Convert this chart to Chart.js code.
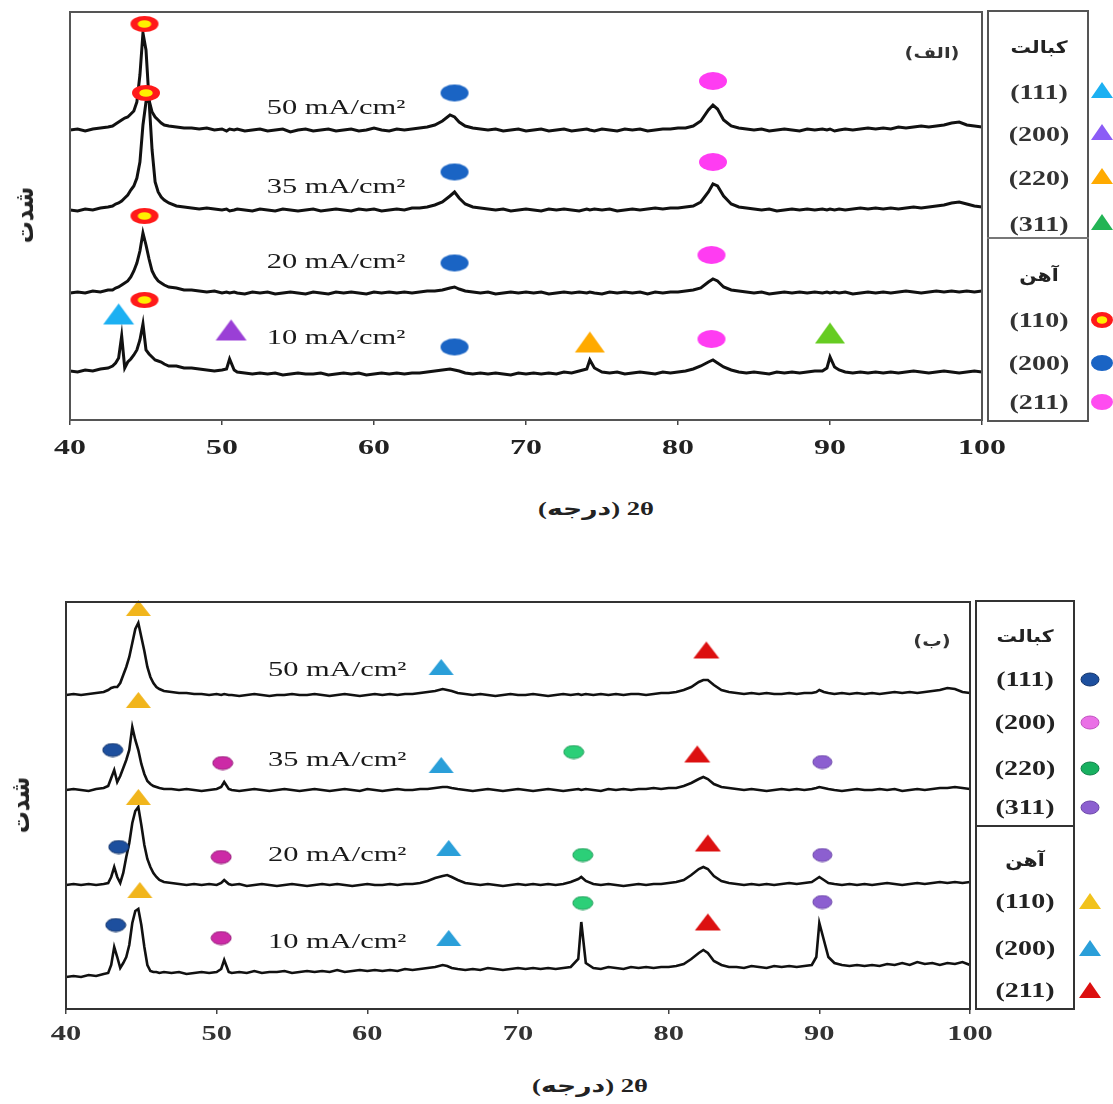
<!DOCTYPE html>
<html>
<head>
<meta charset="utf-8">
<script src="https://cdn.jsdelivr.net/npm/chart.js@4.4.1/dist/chart.umd.min.js"></script>
<style>
  body { margin: 0; background: #fff; width: 1113px; height: 1104px; position: relative; overflow: hidden; }
  .panel { position: absolute; left: 0; width: 1113px; }
  .txt { position: absolute; white-space: nowrap; color: #222; line-height: 1; }
  .box { position: absolute; box-sizing: border-box; }
  .mk { position: absolute; }
</style>
</head>
<body>
<div class="panel" style="top:0;height:470px"><canvas id="chartA"></canvas></div>
<div class="panel" style="top:560px;height:500px"><canvas id="chartB"></canvas></div>

<script>
// ========== DATA ==========
// 2θ sampling (degrees), shared by every pattern
var twoTheta = [
  40, 40.5, 41, 41.5, 42, 42.5,
  42.8, 43, 43.2, 43.4, 43.6, 43.8, 44, 44.2, 44.4, 44.6,
  44.8, 45, 45.2, 45.4, 45.6, 45.8, 46, 46.2, 46.5,
  47, 47.5, 48, 48.5, 49, 49.5, 50, 50.3, 50.5, 50.8,
  51, 51.5, 52, 52.5, 53, 53.5, 54, 54.5, 55, 55.5,
  56, 56.5, 57, 57.5, 58, 58.5, 59, 59.5, 60, 60.5,
  61, 61.5, 62, 62.5, 63, 63.5, 64, 64.5, 65, 65.3,
  65.6, 66, 66.5, 67, 67.5, 68, 68.5, 69, 69.5, 70,
  70.5, 71, 71.5, 72, 72.5, 73, 73.5, 74, 74.2, 74.5,
  75, 75.5, 76, 76.5, 77, 77.5, 78, 78.5, 79, 79.5,
  80, 80.5, 81, 81.5, 82, 82.3, 82.6, 83, 83.5, 84,
  84.5, 85, 85.5, 86, 86.5, 87, 87.5, 88, 88.5, 89,
  89.5, 89.8, 90, 90.3, 90.6, 91, 91.5, 92, 92.5, 93,
  93.5, 94, 94.5, 95, 95.5, 96, 96.5, 97, 97.5, 98,
  98.5, 99, 99.5, 100
];
var xTickValues = [40, 50, 60, 70, 80, 90, 100];
var currents = ["10", "20", "35", "50"];
var coHkl = ["(111)", "(200)", "(220)", "(311)"];
var feHkl = ["(110)", "(200)", "(211)"];

// panel (الف): intensity above each pattern's own baseline (a.u.)
var panelA_offsets = [48, 127, 210, 290];
var panelA_10 = [
  1, 0, 2, 1, 3, 4,
  6, 9, 14, 36, 4, 10, 13, 17, 22, 32,
  48, 22, 18, 15, 12, 11, 10, 8, 6,
  6, 4, 4, 3, 2, 1, 2, 3, 13, 2,
  0, -1, -2, -1, -2, -1, -3, -2, -1, -2,
  -2, -1, -3, -2, -1, -2, -1, -3, -2, -1,
  -2, -1, -2, -1, -1, 0, 1, 2, 3, 2,
  1, -1, -2, -1, -2, -1, -2, -3, -1, -2,
  -1, -2, -1, -2, 0, -1, 1, 3, 12, 4,
  0, -1, 0, -2, -1, 0, -1, -2, 0, -1,
  0, 1, 3, 6, 10, 12, 9, 5, 2, 0,
  -1, 0, -1, -2, 0, -1, 0, -1, 0, 1,
  1, 4, 15, 5, 2, 0, -1, 0, -1, 0,
  -1, 0, -1, 0, 1, 0, -1, 0, 1, 0,
  -1, 0, 1, 0
];
var panelA_20 = [
  0, 1, 0, 2, 1, 3,
  3, 5, 6, 8, 10, 12, 16, 22, 30, 42,
  60, 48, 34, 22, 16, 12, 10, 8, 6,
  5, 3, 3, 2, 1, 2, 0, 1, 0, 1,
  0, -1, 1, 0, 1, -1, 0, 1, 0, -1,
  1, 0, -1, 1, 0, 1, 0, -1, 1, 0,
  1, 0, 1, 0, 1, 2, 2, 3, 5, 6,
  4, 2, 1, 0, 1, -1, 0, 1, 0, 1,
  0, 1, -1, 0, 1, 0, 1, 0, 1, 0,
  -1, 1, 0, 1, 0, 1, -1, 1, 0, 1,
  1, 2, 3, 5, 11, 14, 12, 6, 3, 2,
  1, 0, 1, -1, 0, 1, 0, 1, 0, 1,
  0, 1, 0, 1, 0, 1, -1, 0, 1, 0,
  1, 0, 1, 2, 1, 0, 1, 2, 1, 2,
  1, 2, 1, 2
];
var panelA_35 = [
  0, -1, 1, 0, 2, 3,
  4, 6, 7, 9, 12, 15, 20, 24, 32, 48,
  85, 108, 110, 60, 28, 18, 13, 10, 7,
  4, 3, 2, 1, 2, 1, 0, 1, -1, 0,
  1, 0, -1, 1, 0, -1, 1, 0, -1, 0,
  1, -1, 0, 1, 0, -1, 1, 0, 1, -1,
  0, 1, 0, 2, 2, 3, 5, 8, 14, 18,
  12, 6, 3, 2, 1, 0, 1, -1, 0, 1,
  0, -1, 1, 0, 1, 0, -1, 1, 0, 1,
  0, 1, -1, 0, 1, 0, 1, 2, 1, 2,
  2, 3, 4, 8, 18, 26, 24, 14, 6, 3,
  2, 1, 0, 1, -1, 0, 1, 0, 1, 0,
  1, 0, 1, 0, 1, 0, 1, 2, 1, 2,
  1, 2, 1, 2, 3, 2, 3, 4, 5, 7,
  8, 6, 4, 3
];
var panelA_50 = [
  0, 1, -1, 1, 2, 3,
  4, 6, 8, 10, 12, 13, 16, 19, 28, 55,
  97, 80, 30, 18, 13, 10, 7, 5, 4,
  3, 2, 2, 1, 2, 0, 1, -1, 1, 0,
  1, -1, 0, 1, -1, 0, 1, -2, 0, 1,
  -1, 0, 1, -1, 0, 1, -1, 0, 2, 0,
  -1, 1, 0, 1, 2, 3, 5, 9, 15, 13,
  8, 4, 2, 1, 0, 1, -1, 0, 1, -1,
  0, 1, -1, 0, 1, -1, 0, 1, 0, -1,
  1, 0, -1, 1, 0, 1, -1, 0, 1, 1,
  2, 2, 4, 9, 20, 25, 21, 10, 4, 2,
  1, 0, 1, -1, 0, 1, 0, -1, 1, 0,
  1, 0, 1, -1, 0, 1, 0, 1, 2, 1,
  2, 1, 3, 2, 3, 4, 3, 4, 5, 7,
  8, 5, 4, 3
];
// peak markers, [2θ, intensity]
var coA_111 = [[43.2, 106]];
var coA_200 = [[50.6, 90]];
var coA_220 = [[74.2, 78]];
var coA_311 = [[90.0, 87]];
var feA_110 = [[44.9, 396], [45.0, 327], [44.9, 204], [44.9, 120]];
var feA_200 = [[65.3, 327], [65.3, 248], [65.3, 157], [65.3, 73]];
var feA_211 = [[82.3, 339], [82.3, 258], [82.2, 165], [82.2, 81]];

// panel (ب)
var panelB_offsets = [32, 124, 219, 314];
var panelB_10 = [
  0, 1, 0, 2, 1, 3,
  4, 12, 30, 20, 9, 14, 20, 32, 54, 66,
  68, 52, 30, 12, 6, 5, 5, 4, 5,
  4, 5, 3, 4, 5, 4, 5, 8, 17, 5,
  4, 5, 4, 6, 4, 5, 5, 6, 4, 5,
  6, 5, 6, 5, 7, 5, 6, 7, 6, 7,
  6, 7, 6, 8, 7, 8, 9, 10, 12, 11,
  9, 8, 7, 8, 7, 9, 8, 7, 8, 9,
  8, 9, 8, 9, 8, 9, 10, 18, 55, 14,
  9, 8, 10, 9, 8, 10, 9, 10, 9, 10,
  10, 11, 13, 18, 24, 27, 24, 16, 12, 10,
  10, 9, 11, 10, 9, 11, 10, 11, 10, 11,
  12, 20, 54, 37, 20, 14, 12, 11, 12, 11,
  12, 11, 13, 12, 14, 12, 15, 13, 14, 12,
  14, 13, 15, 12
];
var panelB_20 = [
  0, 1, 0, 1, 0, 1,
  2, 8, 18, 8, 2, 12, 28, 42, 62, 74,
  78, 60, 40, 26, 18, 12, 8, 5, 3,
  2, 1, 0, 1, 0, 1, 0, 2, 5, 1,
  0, 1, -1, 0, 1, 0, -1, 0, 1, 0,
  -1, 0, 1, 0, 1, 0, -1, 0, 1, 0,
  0, 1, 0, 1, 1, 2, 4, 7, 9, 10,
  8, 5, 2, 1, 0, 1, 0, -1, 0, 1,
  0, 1, 0, 1, 0, 1, 3, 6, 8, 4,
  1, 0, 1, 0, -1, 0, 1, 0, 1, 1,
  2, 3, 5, 10, 16, 18, 16, 9, 4, 2,
  1, 0, 1, 0, 1, 0, 1, 2, 1, 2,
  3, 6, 8, 5, 2, 1, 0, 1, 0, 1,
  0, 1, 2, 1, 0, 1, 2, 1, 2, 3,
  2, 3, 2, 3
];
var panelB_35 = [
  0, 1, 0, -1, 1, 2,
  4, 12, 20, 8, 14, 22, 30, 40, 63, 50,
  40, 26, 16, 9, 6, 4, 3, 2, 1,
  1, 0, 1, 0, -1, 0, 1, 3, 8, 1,
  0, -1, 0, 1, 0, -1, 0, 1, 0, -1,
  0, 1, 0, -1, 0, 1, 0, -1, 1, 0,
  -1, 0, 1, 0, 0, 1, 1, 2, 3, 3,
  2, 1, 0, -1, 0, 1, 0, -1, 0, 1,
  0, -1, 0, 1, 0, -1, 0, 1, 0, 1,
  0, -1, 1, 0, 1, 0, 1, 1, 2, 1,
  2, 2, 4, 7, 11, 13, 11, 6, 3, 2,
  1, 0, 1, 0, -1, 0, 1, 0, 1, 0,
  1, 2, 3, 2, 1, 0, -1, 0, 1, 0,
  0, 1, 0, 1, -1, 0, 1, 0, 1, 2,
  2, 3, 2, 1
];
var panelB_50 = [
  0, 1, 0, 1, 2, 3,
  5, 7, 8, 8, 12, 20, 28, 38, 52, 66,
  72, 58, 44, 28, 18, 12, 8, 6, 4,
  3, 2, 2, 1, 1, 0, 1, 0, 1, 0,
  0, -1, 0, 1, 0, -1, 0, 0, 1, 0,
  0, 1, 0, -1, 0, 1, 0, -1, 0, 1,
  0, 1, 0, 1, 1, 2, 3, 4, 6, 5,
  4, 2, 1, 0, 1, 0, -1, 0, 1, 0,
  0, 1, 0, -1, 0, 1, 0, 1, 0, 1,
  0, 1, 0, 1, 0, 1, 1, 0, 1, 2,
  2, 3, 5, 8, 13, 15, 15, 10, 5, 3,
  2, 1, 2, 1, 2, 1, 1, 2, 1, 2,
  2, 3, 5, 3, 2, 1, 2, 1, 2, 1,
  2, 1, 2, 3, 2, 3, 2, 3, 4, 5,
  7, 6, 3, 2
];
var coB_111 = [[43.1, 259], [43.5, 162], [43.3, 84]];
var coB_200 = [[50.4, 246], [50.3, 152], [50.3, 71]];
var coB_220 = [[73.7, 257], [74.3, 154], [74.3, 106]];
var coB_311 = [[90.2, 247], [90.2, 154], [90.2, 107]];
var feB_110 = [[44.8, 401], [44.8, 309], [44.8, 212], [44.9, 119]];
var feB_200 = [[64.9, 342], [64.9, 244], [65.4, 161], [65.4, 71]];
var feB_211 = [[82.5, 359], [81.9, 255], [82.6, 166], [82.6, 87]];

// ========== HELPERS ==========
function makeMarker(shape, w, h, fill, inner, stroke) {
  var c = document.createElement("canvas");
  c.width = w + 2;
  c.height = h + 2;
  var g = c.getContext("2d");
  g.fillStyle = fill;
  g.beginPath();
  if (shape === "tri") {
    g.moveTo(c.width / 2, 1);
    g.lineTo(w + 1, h + 1);
    g.lineTo(1, h + 1);
    g.closePath();
  } else {
    g.ellipse(c.width / 2, c.height / 2, w / 2, h / 2, 0, 0, Math.PI * 2);
  }
  g.fill();
  if (stroke) {
    g.strokeStyle = stroke;
    g.lineWidth = 1;
    g.stroke();
  }
  if (inner) {
    g.fillStyle = inner;
    g.beginPath();
    g.ellipse(c.width / 2, c.height / 2, w * 0.24, h * 0.24, 0, 0, Math.PI * 2);
    g.fill();
  }
  return c;
}

function stretchText(ctx, text, x, y, sx) {
  ctx.save();
  ctx.translate(x, y);
  ctx.scale(sx, 1);
  ctx.fillText(text, 0, 0);
  ctx.restore();
}

function addText(text, cx, cy, font, transform, color) {
  var d = document.createElement("div");
  d.className = "txt";
  d.textContent = text;
  d.style.font = font;
  d.style.left = cx + "px";
  d.style.top = cy + "px";
  if (color) d.style.color = color;
  d.style.transform = "translate(-50%,-50%) " + transform;
  document.body.appendChild(d);
}

function addBox(left, top, w, h, border) {
  var d = document.createElement("div");
  d.className = "box";
  d.style.left = left + "px";
  d.style.top = top + "px";
  d.style.width = w + "px";
  d.style.height = h + "px";
  d.style.border = border;
  document.body.appendChild(d);
}

function addMarker(canvas, cx, cy) {
  canvas.className = "mk";
  canvas.style.left = (cx - canvas.width / 2) + "px";
  canvas.style.top = (cy - canvas.height / 2) + "px";
  document.body.appendChild(canvas);
}

function traceSet(h, off, lw) {
  return {
    data: twoTheta.map(function (x, i) { return { x: x, y: off + h[i] }; }),
    borderColor: "#111",
    borderWidth: lw,
    pointRadius: 0,
    tension: 0,
    order: 1
  };
}

function markSet(pts, style) {
  return {
    data: pts.map(function (p) { return { x: p[0], y: p[1] }; }),
    showLine: false,
    pointStyle: style,
    pointRadius: 6,
    clip: false,
    order: 0
  };
}

// frame, stretched tick labels and current-density labels
var paperPlugin = {
  id: "paper",
  afterDraw: function (chart, args, o) {
    var ctx = chart.ctx, a = chart.chartArea;
    var xs = chart.scales.x, ys = chart.scales.y;
    ctx.save();
    ctx.strokeStyle = o.frameColor;
    ctx.lineWidth = o.frameWidth;
    ctx.strokeRect(a.left, a.top, a.right - a.left, a.bottom - a.top);
    ctx.textAlign = "center";
    ctx.textBaseline = "middle";
    ctx.fillStyle = o.tickColor;
    ctx.font = o.tickFont;
    xTickValues.forEach(function (v) {
      stretchText(ctx, String(v), xs.getPixelForValue(v), a.bottom + o.tickGap, o.stretch);
    });
    ctx.fillStyle = "#1a1a1a";
    ctx.font = o.labelFont;
    currents.forEach(function (c, i) {
      stretchText(ctx, c + " mA/cm\u00B2", xs.getPixelForValue(o.labelX),
        ys.getPixelForValue(o.offsets[i] + o.labelRise[i]), o.stretch);
    });
    ctx.restore();
  }
};

function baseOptions(pad, yMax, axisH, paper) {
  return {
    responsive: true,
    maintainAspectRatio: false,
    animation: false,
    events: [],
    layout: { padding: pad },
    plugins: { legend: { display: false }, tooltip: { enabled: false }, paper: paper },
    scales: {
      x: {
        type: "linear",
        min: 40,
        max: 100,
        afterBuildTicks: function (s) { s.ticks = xTickValues.map(function (v) { return { value: v }; }); },
        afterFit: function (s) { s.height = axisH; },
        ticks: { display: false },
        grid: { drawOnChartArea: false, tickLength: 5, color: "#444", lineWidth: 1.5 },
        border: { display: false }
      },
      y: { display: false, min: 0, max: yMax }
    }
  };
}

document.addEventListener("DOMContentLoaded", function () {

  // ========== PANEL (الف) ==========
  var aCo111 = makeMarker("tri", 31, 21, "#1cb0f2");
  var aCo200 = makeMarker("tri", 31, 21, "#9a3fd6");
  var aCo220 = makeMarker("tri", 30, 21, "#ffaa00");
  var aCo311 = makeMarker("tri", 30, 21, "#66cc22");
  var aFe110 = makeMarker("ell", 28, 16, "#ff1a1a", "#ffee00");
  var aFe200 = makeMarker("ell", 28, 17, "#1a64c4");
  var aFe211 = makeMarker("ell", 28, 18, "#ff3cf2");

  new Chart(document.getElementById("chartA"), {
    type: "line",
    data: {
      datasets: [
        markSet(coA_111, aCo111), markSet(coA_200, aCo200), markSet(coA_220, aCo220), markSet(coA_311, aCo311),
        markSet(feA_110, aFe110), markSet(feA_200, aFe200), markSet(feA_211, aFe211),
        traceSet(panelA_10, panelA_offsets[0], 3), traceSet(panelA_20, panelA_offsets[1], 3),
        traceSet(panelA_35, panelA_offsets[2], 3), traceSet(panelA_50, panelA_offsets[3], 3)
      ]
    },
    options: baseOptions({ left: 70, top: 12, right: 131, bottom: 0 }, 408, 50, {
      frameColor: "#555", frameWidth: 2,
      tickColor: "#222", tickFont: "bold 22px 'Liberation Serif', serif", tickGap: 28, stretch: 1.45,
      labelFont: "21px 'Liberation Serif', serif", labelX: 57.5,
      offsets: panelA_offsets, labelRise: [34, 31, 23, 22]
    }),
    plugins: [paperPlugin]
  });

  // ========== PANEL (ب) ==========
  var bCo111 = makeMarker("ell", 20, 13, "#1d4f9e", null, "#12336a");
  var bCo200 = makeMarker("ell", 20, 13, "#cc2aa6", null, "#951a78");
  var bCo220 = makeMarker("ell", 20, 13, "#2ccf78", null, "#1e9c58");
  var bCo311 = makeMarker("ell", 19, 13, "#8c5fd0", null, "#6a45a8");
  var bFe110 = makeMarker("tri", 25, 16, "#f1b51c");
  var bFe200 = makeMarker("tri", 25, 16, "#2a9fd9");
  var bFe211 = makeMarker("tri", 26, 17, "#dc1010");

  new Chart(document.getElementById("chartB"), {
    type: "line",
    data: {
      datasets: [
        markSet(coB_111, bCo111), markSet(coB_200, bCo200), markSet(coB_220, bCo220), markSet(coB_311, bCo311),
        markSet(feB_110, bFe110), markSet(feB_200, bFe200), markSet(feB_211, bFe211),
        traceSet(panelB_10, panelB_offsets[0], 2.6), traceSet(panelB_20, panelB_offsets[1], 2.6),
        traceSet(panelB_35, panelB_offsets[2], 2.6), traceSet(panelB_50, panelB_offsets[3], 2.6)
      ]
    },
    options: baseOptions({ left: 66, top: 42, right: 143, bottom: 0 }, 407, 51, {
      frameColor: "#333", frameWidth: 2,
      tickColor: "#333", tickFont: "bold 21px 'Liberation Serif', serif", tickGap: 26, stretch: 1.45,
      labelFont: "21px 'Liberation Serif', serif", labelX: 58.0,
      offsets: panelB_offsets, labelRise: [35, 30, 30, 25]
    }),
    plugins: [paperPlugin]
  });

  // ========== TITLES ==========
  var faFont = "bold 19px 'Liberation Serif', 'DejaVu Sans', sans-serif";
  addText("(درجه) 2θ", 596, 508, faFont, "scaleX(1.4)");
  addText("(درجه) 2θ", 590, 1085, faFont, "scaleX(1.4)");
  addText("شدت", 24, 215, "bold 22px 'DejaVu Sans', sans-serif", "rotate(-90deg) scaleY(1.2)");
  addText("شدت", 20, 805, "bold 22px 'DejaVu Sans', sans-serif", "rotate(-90deg) scaleY(1.2)");
  addText("(الف)", 932, 53, "bold 15px 'DejaVu Sans', sans-serif", "scaleX(1.3)", "#333");
  addText("(ب)", 932, 641, "bold 15px 'DejaVu Sans', sans-serif", "scaleX(1.3)", "#333");

  // ========== LEGEND (الف) ==========
  addBox(987, 10, 102, 412, "2px solid #555");
  addBox(987, 237, 102, 2, "none");
  document.body.lastChild.style.background = "#777";
  var fa = "bold 17px 'DejaVu Sans', sans-serif";
  var hk = "bold 20px 'Liberation Serif', serif";
  addText("کبالت", 1039, 47, fa, "scaleX(1.2)");
  addText("آهن", 1039, 275, fa, "scaleX(1.2)");
  var aCoY = [92, 134, 178, 224], aFeY = [320, 363, 402];
  var aCoLeg = [
    makeMarker("tri", 22, 16, "#1cb0f2"), makeMarker("tri", 22, 16, "#8b5cf6"),
    makeMarker("tri", 22, 16, "#ffaa00"), makeMarker("tri", 22, 16, "#22b455")
  ];
  var aFeLeg = [
    makeMarker("ell", 22, 16, "#ff1a1a", "#ffee00"), makeMarker("ell", 22, 16, "#1a64c4"),
    makeMarker("ell", 22, 16, "#ff4cf0")
  ];
  coHkl.forEach(function (t, i) { addText(t, 1039, aCoY[i], hk, "scaleX(1.4)", "#333"); addMarker(aCoLeg[i], 1102, aCoY[i] - 2); });
  feHkl.forEach(function (t, i) { addText(t, 1039, aFeY[i], hk, "scaleX(1.4)", "#333"); addMarker(aFeLeg[i], 1102, aFeY[i]); });

  // ========== LEGEND (ب) ==========
  addBox(975, 600, 100, 410, "2px solid #333");
  addBox(975, 825, 100, 2, "none");
  document.body.lastChild.style.background = "#333";
  addText("کبالت", 1025, 636, fa, "scaleX(1.2)");
  addText("آهن", 1025, 860, fa, "scaleX(1.2)");
  var bCoY = [679, 722, 768, 807], bFeY = [901, 948, 990];
  var bCoLeg = [
    makeMarker("ell", 18, 13, "#1d4f9e", null, "#12336a"), makeMarker("ell", 18, 13, "#ea70e6", null, "#c050c0"),
    makeMarker("ell", 18, 13, "#18b060", null, "#10804a"), makeMarker("ell", 18, 13, "#8c5fd0", null, "#6a45a8")
  ];
  var bFeLeg = [
    makeMarker("tri", 22, 16, "#f1c21c"), makeMarker("tri", 22, 16, "#2a9fd9"),
    makeMarker("tri", 22, 16, "#dc1010")
  ];
  coHkl.forEach(function (t, i) { addText(t, 1025, bCoY[i], hk, "scaleX(1.4)", "#222"); addMarker(bCoLeg[i], 1090, bCoY[i]); });
  feHkl.forEach(function (t, i) { addText(t, 1025, bFeY[i], hk, "scaleX(1.4)", "#222"); addMarker(bFeLeg[i], 1090, bFeY[i]); });

});
</script>
</body>
</html>
